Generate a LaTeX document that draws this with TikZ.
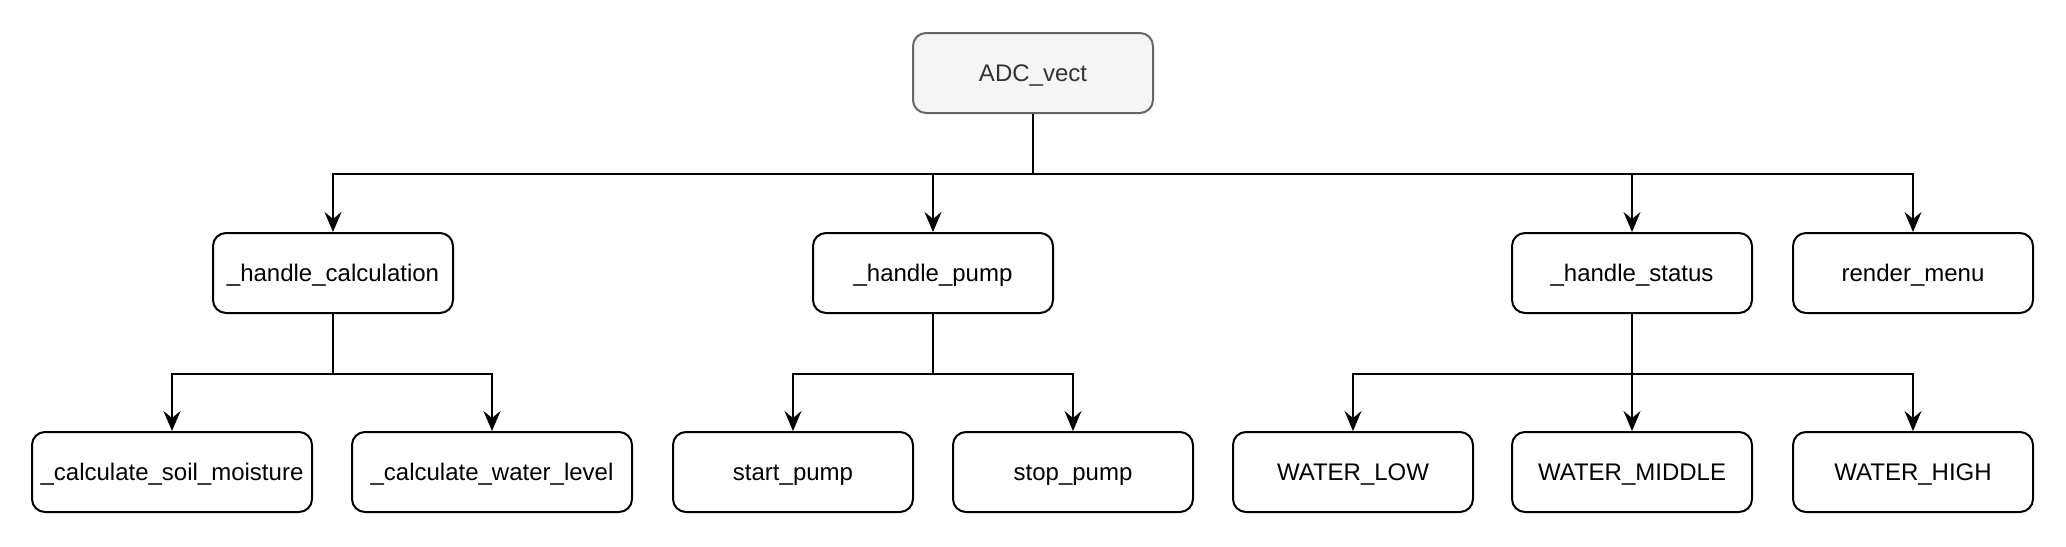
\documentclass[tikz,border=0pt]{standalone}
\usepackage{fontspec}
\setmainfont{Liberation Sans}
\usetikzlibrary{arrows.meta, positioning}
\definecolor{rootfill}{RGB}{245,245,245}
\definecolor{rootline}{RGB}{102,102,102}
\definecolor{roottext}{RGB}{51,51,51}

\begin{document}
\begin{tikzpicture}[x=1pt, y=-1pt,
  box/.style={draw,rounded corners=6.5pt,fill=white,line width=1pt,
              minimum width=120pt,minimum height=40pt,inner sep=0pt,
              text height=8pt,text depth=0pt,
              font=\fontsize{12}{14}\selectfont},
  widebox/.style={box,minimum width=140pt},
  root/.style={box,fill=rootfill,draw=rootline,text=roottext},
  arr/.style={-{Stealth[length=10pt,width=8.5pt,inset=3.5pt]},line width=1pt}
]
\useasboundingbox (0,0) rectangle (1033,273);
\node[root] (adc) at (516.5,36.5) {ADC\_vect};
% second row
\node[box] (hcalc) at (166.5,136.5) {\_handle\_calculation};
\node[box] (hpump) at (466.5,136.5) {\_handle\_pump};
\node[box] (hstat) at (816,136.5)   {\_handle\_status};
\node[box] (rmenu) at (956.5,136.5) {render\_menu};
% third row
\node[widebox] (soil) at (86,236)  {\_calculate\_soil\_moisture};
\node[widebox] (wlvl) at (246,236) {\_calculate\_water\_level};
\node[box] (start) at (396.5,236) {start\_pump};
\node[box] (stop)  at (536.5,236) {stop\_pump};
\node[box] (low)   at (676.5,236) {WATER\_LOW};
\node[box] (mid)   at (816,236)   {WATER\_MIDDLE};
\node[box] (high)  at (956.5,236) {WATER\_HIGH};
% connectors
\foreach \c in {hcalc,hpump,hstat,rmenu}
  \draw[arr] (adc.south) -- ++(0,30) -| (\c.north);
\foreach \c in {soil,wlvl}
  \draw[arr] (hcalc.south) -- ++(0,30) -| (\c.north);
\foreach \c in {start,stop}
  \draw[arr] (hpump.south) -- ++(0,30) -| (\c.north);
\foreach \c in {low,mid,high}
  \draw[arr] (hstat.south) -- ++(0,30) -| (\c.north);
\end{tikzpicture}
\end{document}
